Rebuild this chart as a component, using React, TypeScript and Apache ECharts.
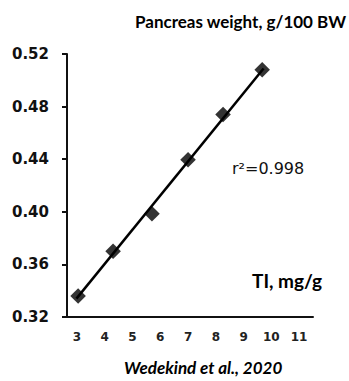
import React, { useEffect, useRef } from "react";
import * as echarts from "echarts";

const tiValues = [3.04, 4.3, 5.7, 7.0, 8.26, 9.67];
const pancreasWeights = [0.336, 0.37, 0.3985, 0.4396, 0.474, 0.508];
const fitLineX = [2.98, 9.72];
const fitLineY = [0.334, 0.509];
const xTickLabels = [3, 4, 5, 6, 7, 8, 9, 10, 11];
const titleText = "Pancreas weight, g/100 BW";
const r2Text = "r\u00b2=0.998";
const xAxisTitle = "TI, mg/g";
const sourceText = "Wedekind et al., 2020";

export default function App() {
  const ref = useRef<HTMLDivElement>(null);
  useEffect(() => {
    if (!ref.current) return;
    const chart = echarts.init(ref.current, null, { renderer: "svg" });
    const points = tiValues.map((x, i) => [x, pancreasWeights[i]]);
    const fit = fitLineX.map((x, i) => [x, fitLineY[i]]);
    chart.setOption({
      animation: false,
      backgroundColor: "#ffffff",
      grid: { left: 67, top: 54, right: 36, bottom: 64, containLabel: false },
      xAxis: {
        type: "value",
        min: 2.64,
        max: 11.5,
        splitLine: { show: false },
        axisLine: { show: true, lineStyle: { color: "#111", width: 2 } },
        axisTick: { show: false },
        axisLabel: {
          customValues: xTickLabels,
          margin: 14,
          color: "#222",
          fontFamily: "DejaVu Sans",
          fontWeight: "bold",
          fontSize: 12,
        },
      },
      yAxis: {
        type: "value",
        min: 0.32,
        max: 0.52,
        interval: 0.04,
        splitLine: { show: false },
        axisLine: { show: true, lineStyle: { color: "#111", width: 2 } },
        axisTick: { show: true, length: 5, lineStyle: { color: "#111", width: 2 } },
        axisLabel: {
          margin: 18,
          color: "#111",
          fontFamily: "DejaVu Sans",
          fontWeight: "bold",
          fontSize: 15,
          formatter: (v: number) => v.toFixed(2),
        },
      },
      series: [
        {
          type: "line",
          data: fit,
          symbol: "none",
          lineStyle: { color: "#000", width: 2.5 },
          z: 2,
        },
        {
          type: "scatter",
          data: points,
          symbol: "rect",
          symbolSize: 11,
          symbolRotate: 45,
          itemStyle: { color: "#000" },
          z: 3,
        },
      ],
      graphic: [
        {
          type: "text",
          left: 135,
          top: 13,
          style: {
            text: titleText,
            font: "bold 17px Lato",
            fill: "#000",
          },
        },
        {
          type: "text",
          left: 232,
          top: 160,
          style: {
            text: r2Text,
            font: "16px DejaVu Sans",
            fill: "#111",
          },
        },
        {
          type: "text",
          left: 252,
          top: 271,
          style: {
            text: xAxisTitle,
            font: "bold 19px Lato",
            fill: "#000",
          },
        },
        {
          type: "text",
          left: 124,
          top: 359,
          style: {
            text: sourceText,
            font: "italic bold 17px Lato",
            fill: "#000",
          },
        },
      ],
    });
    return () => chart.dispose();
  }, []);
  return (
    <div
      ref={ref}
      style={{ position: "fixed", left: 0, top: 0, width: 349, height: 381 }}
    />
  );
}
